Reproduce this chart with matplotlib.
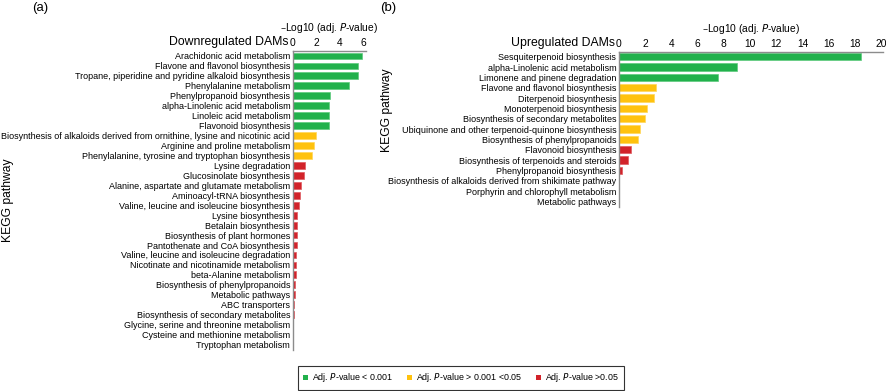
import matplotlib
matplotlib.use("Agg")
import matplotlib.pyplot as plt
from matplotlib.patches import Patch

plt.rcParams['font.family'] = ['Liberation Sans', 'DejaVu Sans']

# ---------------- data ----------------
down_pathways = [
    "Arachidonic acid metabolism",
    "Flavone and flavonol biosynthesis",
    "Tropane, piperidine and pyridine alkaloid biosynthesis",
    "Phenylalanine metabolism",
    "Phenylpropanoid biosynthesis",
    "alpha-Linolenic acid metabolism",
    "Linoleic acid metabolism",
    "Flavonoid biosynthesis",
    "Biosynthesis of alkaloids derived from ornithine, lysine and nicotinic acid",
    "Arginine and proline metabolism",
    "Phenylalanine, tyrosine and tryptophan biosynthesis",
    "Lysine degradation",
    "Glucosinolate biosynthesis",
    "Alanine, aspartate and glutamate metabolism",
    "Aminoacyl-tRNA biosynthesis",
    "Valine, leucine and isoleucine biosynthesis",
    "Lysine biosynthesis",
    "Betalain biosynthesis",
    "Biosynthesis of plant hormones",
    "Pantothenate and CoA biosynthesis",
    "Valine, leucine and isoleucine degradation",
    "Nicotinate and nicotinamide metabolism",
    "beta-Alanine metabolism",
    "Biosynthesis of phenylpropanoids",
    "Metabolic pathways",
    "ABC transporters",
    "Biosynthesis of secondary metabolites",
    "Glycine, serine and threonine metabolism",
    "Cysteine and methionine metabolism",
    "Tryptophan metabolism",
]
down_values = [5.87, 5.5, 5.5, 4.76, 3.16, 3.1, 3.1, 3.05,
               1.94, 1.8, 1.6,
               1.03, 0.9, 0.66, 0.6, 0.55, 0.37, 0.3, 0.3, 0.3, 0.26, 0.24,
               0.22, 0.17, 0.15, 0.1, 0.05, 0.0, 0.0, 0.0]
down_groups = [0] * 8 + [1] * 3 + [2] * 19

up_pathways = [
    "Sesquiterpenoid biosynthesis",
    "alpha-Linolenic acid metabolism",
    "Limonene and pinene degradation",
    "Flavone and flavonol biosynthesis",
    "Diterpenoid biosynthesis",
    "Monoterpenoid biosynthesis",
    "Biosynthesis of secondary metabolites",
    "Ubiquinone and other terpenoid-quinone biosynthesis",
    "Biosynthesis of phenylpropanoids",
    "Flavonoid biosynthesis",
    "Biosynthesis of terpenoids and steroids",
    "Phenylpropanoid biosynthesis",
    "Biosynthesis of alkaloids derived from shikimate pathway",
    "Porphyrin and chlorophyll metabolism",
    "Metabolic pathways",
]
up_values = [18.5, 8.97, 7.57, 2.8, 2.65, 2.17, 1.96, 1.58, 1.45,
             0.95, 0.72, 0.2, 0.0, 0.0, 0.0]
up_groups = [0] * 3 + [1] * 6 + [2] * 6

down_ticks = [0, 2, 4, 6]
up_ticks = [0, 2, 4, 6, 8, 10, 12, 14, 16, 18, 20]

legend_labels = ["Adj. $\\it{P}$-value < 0.001",
                 "Adj. $\\it{P}$-value > 0.001 <0.05",
                 "Adj. $\\it{P}$-value >0.05"]

# ---------------- style ----------------
colors = ['#22B14C', '#FFC20E', '#D2232A']
edges = ['#5FCB7E', '#FFD65A', '#DE5A5F']
spine_col = '#8C8C8C'
W, H = 887, 391

fig = plt.figure(figsize=(W / 100, H / 100), dpi=100)


def make_panel(rect, names, vals, groups, ticks, xmax, title, letter, letter_x,
               ylabel_x, ylabel_y):
    ax = fig.add_axes(rect)
    y = list(range(len(names)))
    ax.barh(y, vals, height=0.68,
            color=[colors[g] for g in groups],
            edgecolor=[edges[g] for g in groups], linewidth=0.5)
    ax.set_ylim(len(names) - 0.5, -0.5)
    ax.set_xlim(0, xmax)
    ax.set_yticks(y)
    ax.set_yticklabels(names, fontsize=6.45)
    ax.set_xticks(ticks)
    ax.set_xticklabels([str(t) for t in ticks], fontsize=7.4)
    ax.xaxis.tick_top()
    ax.tick_params(axis='x', length=0, pad=2)
    ax.tick_params(axis='y', length=0, pad=2)
    for s in ['right', 'bottom']:
        ax.spines[s].set_visible(False)
    for s in ['left', 'top']:
        ax.spines[s].set_color(spine_col)
        ax.spines[s].set_linewidth(1.0)
    ax.xaxis.set_label_position('top')
    ax.set_xlabel("\u2013Log10 (adj. $\\it{P}$-value)", fontsize=7.4, labelpad=5)
    ax.annotate(title, xy=(0, 1), xycoords='axes fraction',
                xytext=(-3, 2), textcoords='offset points',
                ha='right', va='bottom', fontsize=8.8)
    fig.text(letter_x / W, 1 - 8 / H, letter, fontsize=9.5, ha='left', va='center')
    fig.text(ylabel_x / W, 1 - ylabel_y / H, "KEGG pathway", rotation=90,
             fontsize=8.7, ha='center', va='center')
    return ax


make_panel([293 / W, 1 - 349.5 / H, 73 / W, 298.5 / H],
           down_pathways, down_values, down_groups, down_ticks, 6.2,
           "Downregulated DAMs", "(a)", 32, 8, 200)
make_panel([619 / W, 1 - 206.5 / H, 264 / W, 155 / H],
           up_pathways, up_values, up_groups, up_ticks, 20.15,
           "Upregulated DAMs", "(b)", 380, 387, 110)

handles = [Patch(facecolor=c, edgecolor='none') for c in colors]
leg = fig.legend(handles, legend_labels, loc='center',
                 bbox_to_anchor=(461 / W, 1 - 378 / H), ncol=3,
                 fontsize=6.4, frameon=True, fancybox=False,
                 handlelength=0.55, handleheight=0.55, handletextpad=0.5,
                 columnspacing=1.5, borderpad=0.6)
leg.get_frame().set_edgecolor('black')
leg.get_frame().set_linewidth(0.8)

fig.savefig("out.png", dpi=100)
